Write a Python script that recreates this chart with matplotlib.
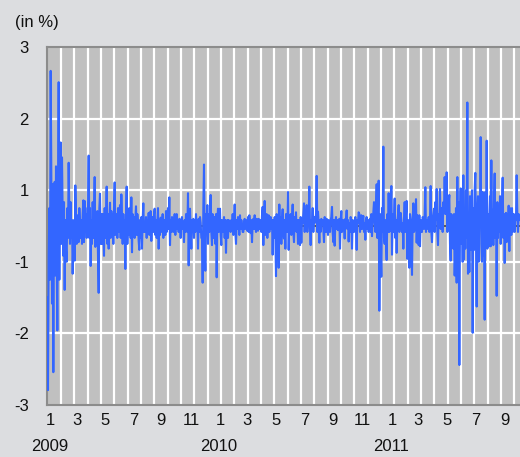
import matplotlib
matplotlib.use("Agg")
import matplotlib.pyplot as plt
import matplotlib.transforms as mtransforms
import numpy as np

plt.rcParams['font.family'] = ['Liberation Sans', 'DejaVu Sans']

# daily change (in %), one list per month
m2009 = [
    [-1.2, -2.75, -0.5, 0.3, -0.9, 2.6, 0.85, -1.3, 0.7, -2.45, 0.4, 0.74, -0.83, 1.0, -0.6, -1.75, 0.2, 2.41, -0.9, 1.1],
    [1.4, -0.3, 1.15, 0.2, -0.5, 0.4, -1.07, 0.1, -0.4, -0.6, 0.3, -0.2, 1.06, 0.2, -0.3, 0.4, -0.2, 0.1, -0.8],
    [-0.2, 0.1, -0.58, 0.68, 0.2, -0.3, 0.18, -0.1, -0.27, 0.3, 0.05, -0.2, 0.1, -0.3, 0.2, 0.43, -0.27, 0.42, -0.1, 0.2, -0.2, 0.3],
    [0.3, 1.18, -0.2, 0.3, -0.67, 0.1, -0.3, 0.4, -0.2, 0.2, 0.82, -0.35, 0.15, -0.3, 0.25, -0.5, -1.12, 0.3, 0.54, -0.3, 0.2],
    [-0.3, 0.2, -0.1, -0.5, 0.3, -0.2, 0.1, 0.66, -0.3, 0.2, -0.38, 0.1, 0.39, -0.2, 0.25, -0.1, 0.2, -0.3, 0.3, 0.73],
    [-0.15, 0.2, 0.1, -0.2, 0.3, -0.1, 0.15, 0.35, -0.2, 0.53, 0.1, -0.3, 0.2, -0.2, 0.1, -0.72, 0.2, 0.66, -0.3, 0.1, -0.15, 0.3],
    [0.1, -0.2, 0.48, -0.44, 0.2, -0.1, 0.15, -0.2, 0.1, 0.33, -0.15, 0.2, 0.05, -0.25, -0.4, 0.1, -0.2, 0.15, -0.38, 0.1, 0.38, -0.1],
    [0.05, -0.1, 0.15, -0.2, 0.1, -0.05, 0.22, -0.15, 0.1, 0.25, -0.25, 0.05, 0.15, -0.1, 0.2, 0.29, -0.15, 0.1, -0.2, 0.05],
    [0.3, -0.38, 0.1, -0.15, 0.14, 0.05, -0.1, 0.2, -0.2, 0.1, 0.05, -0.15, 0.25, -0.1, 0.15, 0.3, -0.05, 0.48, -0.32, 0.1, -0.1, 0.15],
    [0.1, -0.1, 0.05, 0.2, -0.15, 0.1, 0.2, -0.05, 0.1, -0.1, 0.12, 0.05, -0.2, 0.1, 0.15, -0.05, 0.05, -0.27, 0.1, -0.1, 0.2, 0.05, -0.1],
    [0.55, -0.66, 0.2, 0.29, -0.1, -0.38, 0.1, 0.05, 0.12, -0.2, 0.1, -0.1, 0.2, -0.05, 0.1, -0.38, 0.12, -0.1, 0.15, 0.05, -0.2],
    [-0.2, -0.95, 0.3, 1.03, -0.2, -0.75, 0.2, 0.1, 0.35, -0.3, 0.2, -0.1, 0.3, 0.52, -0.1, -0.32, 0.2, -0.2, 0.1, 0.15, -0.3, 0.2],
]
m2010 = [
    [-0.86, 0.1, 0.29, -0.1, 0.2, 0.29, -0.15, -0.32, 0.1, 0.05, -0.1, 0.15, -0.2, 0.1, -0.45, 0.05, 0.1, -0.2, 0.1, -0.05],
    [0.07, -0.1, 0.1, -0.05, 0.2, -0.15, 0.05, 0.36, -0.1, -0.3, 0.1, -0.05, 0.15, 0.05, -0.15, 0.18, -0.05, 0.1, 0.02, -0.1],
    [-0.1, 0.05, 0.12, -0.05, 0.1, 0.05, -0.08, 0.15, -0.1, 0.18, 0.05, -0.12, 0.1, -0.27, 0.05, 0.12, -0.05, 0.18, 0.02, -0.1, 0.12, 0.05, -0.08],
    [0.12, -0.05, 0.1, 0.05, -0.1, 0.18, 0.32, -0.32, 0.1, 0.42, -0.15, 0.05, 0.2, -0.2, 0.1, 0.18, -0.1, 0.05, 0.15, -0.05, 0.1],
    [-0.48, 0.1, -0.2, 0.15, -0.1, -0.84, 0.2, -0.1, 0.1, -0.7, 0.36, -0.2, 0.15, -0.3, 0.1, 0.28, -0.1, -0.21, 0.1, -0.38, 0.2],
    [0.1, -0.1, 0.57, -0.4, 0.1, -0.07, 0.2, -0.15, 0.1, 0.36, -0.1, -0.27, 0.15, 0.05, 0.23, -0.1, 0.1, -0.3, 0.1, 0.05, -0.32, 0.15],
    [-0.28, 0.1, 0.05, 0.2, 0.38, -0.1, 0.2, 0.05, 0.35, -0.1, 0.1, 0.2, 0.66, -0.05, -0.32, 0.1, 0.05, 0.3, -0.1, 0.15, 0.05],
    [0.1, 0.2, 0.84, -0.1, 0.24, 0.05, -0.28, 0.1, -0.1, 0.12, 0.05, 0.1, -0.05, -0.27, 0.15, 0.05, -0.1, 0.12, 0.02, -0.15, 0.1],
    [0.05, -0.1, 0.1, 0.15, 0.32, -0.1, -0.27, 0.1, -0.33, 0.05, 0.15, -0.05, 0.1, -0.07, 0.05, 0.12, -0.38, 0.1, 0.25, -0.1, 0.05, 0.1],
    [0.05, -0.21, 0.12, 0.1, 0.26, -0.05, 0.1, -0.26, 0.05, -0.1, 0.15, 0.05, -0.38, 0.1, 0.05, -0.1, 0.07, 0.15, -0.05, -0.4, 0.1, 0.05, 0.23],
    [0.2, -0.1, 0.05, 0.18, -0.05, 0.1, 0.17, -0.1, 0.05, -0.23, 0.1, 0.15, -0.05, 0.1, -0.1, 0.05, 0.12, -0.1, 0.2, -0.17, 0.05, 0.22],
    [0.4, 0.1, -0.1, 0.3, 0.7, -0.2, 0.3, 0.76, -1.42, 0.2, -0.3, -0.85, 0.3, -0.1, 1.33, -0.2, -0.3, 0.1, -0.3, -0.57, 0.2, -0.1],
]
m2011 = [
    [0.55, -0.1, 0.1, 0.2, 0.67, -0.48, 0.2, -0.1, 0.1, 0.46, -0.2, 0.1, -0.45, 0.05, 0.2, 0.35, -0.1, 0.1, 0.22],
    [0.1, -0.1, 0.05, -0.38, 0.1, 0.4, -0.1, 0.2, 0.42, -0.55, 0.1, -0.2, -0.7, 0.2, 0.1, -0.3, -0.82, 0.1, 0.38, -0.1],
    [-0.05, 0.1, 0.45, -0.28, 0.18, 0.05, -0.32, 0.18, -0.34, 0.1, 0.05, -0.1, 0.15, 0.12, -0.05, 0.2, 0.65, -0.1, 0.1, 0.05, -0.05, 0.15, -0.1],
    [0.1, 0.67, -0.1, -0.27, 0.1, 0.2, 0.29, -0.1, 0.4, 0.1, 0.62, -0.1, -0.32, 0.2, 0.1, 0.62, -0.05, 0.2, 0.3, -0.1, 0.4],
    [0.3, 0.82, 0.2, 0.5, 0.9, -0.1, 0.3, 0.4, 0.52, -0.3, -0.58, 0.2, 0.1, -0.2, -0.38, 0.2, -0.83, -0.3, 0.3, -0.95, 0.82],
    [-0.5, 0.4, -2.33, 0.1, 0.63, -0.3, 0.5, -0.6, 0.85, -0.56, 0.3, -0.38, 0.6, -0.2, 2.07, -0.8, 0.2, -0.77, 0.5, 0.35, -0.4, 0.6],
    [-1.79, 0.3, -0.4, 0.6, 0.89, -0.3, -1.35, 0.2, 0.5, -0.6, 0.18, 0.3, 1.49, -0.3, -0.6, 0.57, -0.49, 0.2, -1.57, 0.57, -0.3],
    [1.43, -0.38, 0.2, -0.34, 0.07, 0.5, -0.34, 1.1, -0.3, 0.27, -0.32, 0.4, 0.88, -0.2, 0.27, -1.17, 0.4, -0.2, 0.3, -0.1, 0.5, -0.3, 0.2],
    [0.3, 0.81, -0.2, 0.2, -0.62, 0.1, 0.22, -0.27, 0.2, -0.1, 0.34, -0.42, 0.3, 0.1, -0.15, 0.3, -0.1, 0.2, 0.05, -0.1, 0.2],
    [0.1, 0.85, 0.18, -0.1, 0.2, 0.1],
]
years = ['2009', '2010', '2011']
y_ticks = [-3, -1.8, -0.6, 0.6, 1.8, 3]

months = m2009 + m2010 + m2011
values = np.concatenate([np.array(m) for m in months])
x = np.arange(len(values))
starts = np.cumsum([0] + [len(m) for m in months])[:-1]

fig = plt.figure(figsize=(5.2, 4.57), dpi=100, facecolor='#dcdde0')
ax = fig.add_axes([47 / 520, 1 - 405 / 457, 1 - 47 / 520, (405 - 47) / 457])
ax.set_facecolor('#c0c0c0')

# grid: vertical every 20 days, horizontal at the y ticks
for gx in np.arange(20.5, len(values), 20):
    ax.axvline(gx, color='white', lw=1.6, zorder=1)
for gy in y_ticks[1:-1]:
    ax.axhline(gy, color='white', lw=1.6, zorder=1)
ax.axhline(0, color='#505050', lw=1.3, zorder=2)

ax.plot(x, values, color='#3366ff', lw=1.5, zorder=3)

ax.set_xlim(-0.5, 709)
ax.set_ylim(-3, 3)
ax.set_yticks(y_ticks)
ax.set_yticklabels(['%.0f' % v for v in y_ticks])

tick_pos = [starts[i] + 5 for i in range(0, len(months), 2)]
tick_lab = [str(i % 12 + 1) for i in range(0, len(months), 2)]
ax.set_xticks(tick_pos)
ax.set_xticklabels(tick_lab)
ax.tick_params(axis='both', length=0, labelsize=12, colors='#111111')
ax.tick_params(axis='y', pad=13)
ax.tick_params(axis='x', pad=6)

trans = mtransforms.blended_transform_factory(ax.transData, ax.transAxes)
for k, yr in enumerate(years):
    ax.text(starts[12 * k] + 3, -0.095, yr, transform=trans, ha='center', va='top',
            fontsize=12, color='#111111')

for side in ['left', 'top', 'bottom']:
    ax.spines[side].set_color('#8c8c8c')
    ax.spines[side].set_linewidth(1.5)
ax.spines['right'].set_visible(False)

fig.text(15 / 520, 1 - 22 / 457, '(in %)', fontsize=12, va='center', ha='left', color='#111111')

fig.savefig('out.png', dpi=100, facecolor=fig.get_facecolor())
